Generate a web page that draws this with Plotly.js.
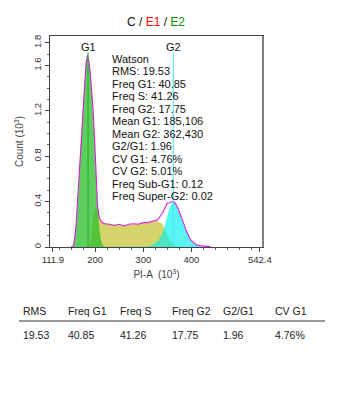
<!DOCTYPE html>
<html><head><meta charset="utf-8">
<script src="https://cdn.plot.ly/plotly-3.0.1.min.js"></script>
<style>html,body{margin:0;padding:0;background:#fff;}#chart{width:360px;height:419px;}</style>
</head><body><div id="chart"></div>
<script>
// PI-A channel (10^3)
const pia = [120,150,155,160,163,166,169,172,175,178,181,184,187,190,193,196,199,202,205,208,211,215,220,230,240,250,260,270,280,290,300,310,320,330,340,345,350,355,360,365,370,375,380,385,390,395,400,410,420,440,500,540];
// Count (10^3) — measured histogram outline (null = no visible outline)
const total = [null,0,0.01,0.18,0.38,0.62,0.8,1.0,1.25,1.47,1.62,1.69,1.63,1.52,1.35,1.18,0.92,0.6,0.36,0.27,0.235,0.215,0.205,0.2,0.19,0.2,0.185,0.2,0.205,0.2,0.215,0.215,0.225,0.24,0.3,0.35,0.385,0.39,0.4,0.395,0.36,0.31,0.25,0.19,0.14,0.09,0.055,0.02,0.01,0.003,null,null];
// Model components
const g1Fit = [0,0,0.01,0.18,0.38,0.62,0.8,1.0,1.25,1.47,1.62,1.69,1.63,1.52,1.35,1.18,0.92,0.58,0.33,0.18,0.08,0.02,0,0,0,0,0,0,0,0,0,0,0,0,0,0,0,0,0,0,0,0,0,0,0,0,0,0,0,0,0,0];
const sFit  = [0,0,0,0,0,0,0,0,0,0,0,0,0,0.03,0.12,0.26,0.33,0.34,0.32,0.28,0.24,0.22,0.21,0.2,0.195,0.19,0.19,0.195,0.2,0.205,0.21,0.215,0.225,0.23,0.2,0.15,0.1,0.06,0.035,0.015,0.005,0,0,0,0,0,0,0,0,0,0,0];
const g2Fit = [0,0,0,0,0,0,0,0,0,0,0,0,0,0,0,0,0,0,0,0,0,0,0,0,0,0,0,0,0,0,0,0.005,0.02,0.05,0.12,0.2,0.29,0.35,0.385,0.39,0.36,0.31,0.25,0.19,0.135,0.085,0.05,0.015,0.004,0,0,0];

const xTicks = [111.9,200,300,400,542.4];
const xTickText = ['111.9','200','300','400','542.4'];
const yTicks = [0,0.4,0.8,1.2,1.6,1.8];
const yTickText = ['0','0.4','0.8','1.2','1.6','1.8'];

const gateNames = ['G1','G2'];
const gateMeans = [185.106,362.430];

const statsLines = ['Watson','RMS: 19.53','Freq G1: 40.85','Freq S: 41.26','Freq G2: 17.75','Mean G1: 185,106','Mean G2: 362,430','G2/G1: 1.96','CV G1: 4.76%','CV G2: 5.01%','Freq Sub-G1: 0.12','Freq Super-G2: 0.02'];

const tableHeaders = ['RMS','Freq G1','Freq S','Freq G2','G2/G1','CV G1'];
const tableValues = ['19.53','40.85','41.26','17.75','1.96','4.76%'];

// layout geometry helpers (plot area 50..263 x, 36..247 y)
const L=50,R=263,T=36,B=247;
const px2paperX = p => (p-L)/(R-L);
const py2paperY = p => (B-p)/(B-T);

const font = 'Liberation Sans, Arial, sans-serif';

const traces = [
  {x:pia,y:sFit,type:'scatter',mode:'lines',fill:'tozeroy',line:{width:0,color:'rgba(0,0,0,0)'},fillcolor:'rgba(205,200,70,0.8)',hoverinfo:'skip'},
  {x:pia,y:g1Fit,type:'scatter',mode:'lines',fill:'tozeroy',line:{width:0,color:'rgba(0,0,0,0)'},fillcolor:'rgba(40,190,40,0.75)',hoverinfo:'skip'},
  {x:pia,y:g2Fit,type:'scatter',mode:'lines',fill:'tozeroy',line:{width:0,color:'rgba(0,0,0,0)'},fillcolor:'rgba(0,240,240,0.65)',hoverinfo:'skip'},
  {x:pia,y:total,type:'scatter',mode:'lines',line:{width:1.1,color:'#d81ed8'},hoverinfo:'skip'}
];

const annotations = [];
statsLines.forEach((s,i)=>{
  annotations.push({text:s,xref:'paper',yref:'paper',x:px2paperX(110),y:py2paperY(59+i*12.45),xanchor:'left',yanchor:'middle',showarrow:false,font:{family:font,size:11,color:'#111'}});
});
gateNames.forEach((g,i)=>{
  annotations.push({text:g,xref:'x',yref:'paper',x:gateMeans[i],y:py2paperY(47),xanchor:'center',yanchor:'middle',showarrow:false,font:{family:font,size:11,color:'#111'}});
});
const colX = [21,66,118,170,221,273];
tableHeaders.forEach((h,i)=>{
  annotations.push({text:h,xref:'paper',yref:'paper',x:px2paperX(colX[i]),y:py2paperY(311),xanchor:'left',yanchor:'middle',showarrow:false,font:{family:font,size:10.5,color:'#222'}});
  annotations.push({text:tableValues[i],xref:'paper',yref:'paper',x:px2paperX(colX[i]),y:py2paperY(335),xanchor:'left',yanchor:'middle',showarrow:false,font:{family:font,size:10.5,color:'#222'}});
});

const shapes = [
  {type:'line',xref:'x',yref:'paper',x0:gateMeans[0],x1:gateMeans[0],y0:0,y1:py2paperY(52),line:{color:'#1fb01f',width:1}},
  {type:'line',xref:'x',yref:'paper',x0:gateMeans[1],x1:gateMeans[1],y0:0,y1:py2paperY(52),line:{color:'#40e8e8',width:1}},
  {type:'line',xref:'paper',yref:'paper',x0:1,x1:1,y0:0,y1:1,line:{color:'#808080',width:2}},
  {type:'line',xref:'paper',yref:'paper',x0:px2paperX(19),x1:px2paperX(325),y0:py2paperY(321),y1:py2paperY(321),line:{color:'#777',width:1.5}}
];

const layout = {
  width:360,height:419,
  margin:{l:L,r:360-R,t:T,b:419-B},
  paper_bgcolor:'#fff',plot_bgcolor:'#fff',
  showlegend:false,
  title:{text:'C / <span style="color:#ff0000">E1</span> / <span style="color:#009900">E2</span>',x:px2paperX(156),xref:'paper',y:1-22/419,yanchor:'middle',xanchor:'center',font:{family:font,size:12,color:'#111'}},
  xaxis:{range:[106,549],tickvals:xTicks,ticktext:xTickText,showgrid:false,zeroline:false,
    showline:true,mirror:true,linecolor:'#444',linewidth:1,ticks:'outside',ticklen:4,tickcolor:'#444',
    minor:{tickvals:[125,150,175,225,250,275,325,350,375,425,450,475,500,525],ticks:'outside',ticklen:2,tickcolor:'#666'},
    tickfont:{family:font,size:9.5,color:'#333'},
    title:{text:'PI-A  (10<sup>3</sup>)',font:{family:font,size:10,color:'#444'},standoff:6}},
  yaxis:{range:[0,1.86],tickvals:yTicks,ticktext:yTickText,tickangle:-90,showgrid:false,zeroline:false,
    showline:true,mirror:true,linecolor:'#444',linewidth:1,ticks:'outside',ticklen:4,tickcolor:'#444',
    minor:{dtick:0.1,ticks:'outside',ticklen:2,tickcolor:'#666'},
    tickfont:{family:font,size:9.5,color:'#333'},
    title:{text:'Count (10<sup>3</sup>)',font:{family:font,size:10,color:'#444'},standoff:6}},
  annotations:annotations,
  shapes:shapes
};

Plotly.newPlot('chart',traces,layout,{displayModeBar:false,staticPlot:true});
</script>
</body></html>
